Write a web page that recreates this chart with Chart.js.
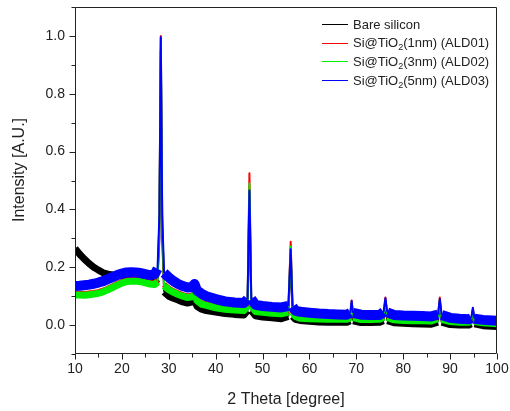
<!DOCTYPE html>
<html lang="en">
<head>
  <meta charset="UTF-8">
  <title>XRD Si@TiO2</title>
  <script src="https://cdn.jsdelivr.net/npm/chart.js"></script>
  <style>
    body {
      background-color: #fff;
      margin: 0;
      padding: 0;
    }
    canvas {
      display: block;
    }
  </style>
</head>
<body>
  <canvas id="xrdChart" width="510" height="411"></canvas>

  <script>
    // 2 theta positions (shared by all four patterns)
    const twoTheta = [10,11,12,13,14,15,16,17,18,19,20,21,22,23,24,25,26,27,
      27.6,28.0,28.3,28.6,29.0,30,31,32,33,34,35,35.5,36,37,38,40,42,44,46,
      46.8,47.2,47.6,48.5,50,52,54,55.5,56.0,56.4,57,58,60,62,64,66,68,
      68.7,69.0,69.3,71,73,75,75.8,76.2,76.6,78,80,82,84,86,87.4,87.8,88.2,
      90,92,94,94.5,94.85,95.2,97,100];

    const bareSilicon = [0.265,0.245,0.228,0.213,0.2,0.19,0.181,0.176,0.173,0.172,0.17,0.168,0.165,0.162,0.158,0.155,0.15,0.15,
      0.16,0.3,0.95,0.3,0.115,0.1,0.093,0.087,0.08,0.076,0.08,0.09,0.065,0.055,0.05,0.045,0.04,0.037,0.035,
      0.05,0.44,0.05,0.032,0.028,0.025,0.022,0.03,0.24,0.03,0.02,0.016,0.013,0.011,0.01,0.01,0.01,
      0.015,0.06,0.015,0.009,0.009,0.01,0.015,0.07,0.015,0.008,0.006,0.005,0.004,0.003,0.01,0.075,0.01,
      0.002,0,0,0.004,0.04,0.004,-0.002,-0.005];

    const ald01 = [0.108,0.108,0.107,0.109,0.111,0.114,0.119,0.126,0.134,0.142,0.149,0.154,0.156,0.156,0.154,0.15,0.146,0.144,
      0.155,0.36,1.0,0.36,0.14,0.126,0.117,0.11,0.104,0.099,0.102,0.113,0.089,0.076,0.072,0.064,0.059,0.056,0.054,
      0.072,0.525,0.072,0.051,0.048,0.045,0.043,0.05,0.288,0.05,0.034,0.028,0.026,0.025,0.024,0.024,0.024,
      0.03,0.085,0.03,0.023,0.023,0.024,0.032,0.095,0.03,0.022,0.02,0.019,0.019,0.018,0.026,0.095,0.024,
      0.016,0.014,0.014,0.017,0.055,0.016,0.012,0.009];

    const ald02 = [0.104,0.104,0.103,0.105,0.107,0.11,0.115,0.122,0.13,0.138,0.145,0.15,0.152,0.152,0.15,0.146,0.142,0.14,
      0.15,0.35,0.99,0.35,0.135,0.122,0.113,0.106,0.1,0.095,0.098,0.11,0.085,0.072,0.068,0.06,0.055,0.052,0.05,
      0.068,0.49,0.068,0.047,0.044,0.041,0.039,0.045,0.272,0.045,0.03,0.024,0.022,0.021,0.02,0.02,0.02,
      0.026,0.076,0.026,0.019,0.019,0.02,0.028,0.086,0.026,0.018,0.016,0.015,0.015,0.014,0.022,0.086,0.02,
      0.012,0.01,0.01,0.013,0.05,0.012,0.008,0.005];

    const ald03 = [0.135,0.136,0.138,0.14,0.143,0.147,0.152,0.159,0.166,0.173,0.178,0.182,0.183,0.182,0.18,0.176,0.173,0.176,
      0.195,0.38,0.995,0.38,0.18,0.165,0.152,0.142,0.135,0.13,0.132,0.142,0.12,0.108,0.1,0.09,0.082,0.078,0.076,
      0.09,0.465,0.09,0.07,0.066,0.063,0.061,0.066,0.262,0.064,0.05,0.046,0.043,0.04,0.038,0.037,0.036,
      0.042,0.083,0.042,0.036,0.035,0.035,0.045,0.093,0.044,0.035,0.033,0.032,0.031,0.03,0.036,0.09,0.035,
      0.025,0.022,0.02,0.024,0.06,0.022,0.018,0.015];

    const seriesLabels = ['Bare silicon', 'Si@TiO₂(1nm) (ALD01)', 'Si@TiO₂(3nm) (ALD02)', 'Si@TiO₂(5nm) (ALD03)'];
    const seriesColors = ['#000000', '#ff0000', '#00ee00', '#0000ff'];

    const textColor = '#222';
    const fontFamily = '"Liberation Sans", Arial, sans-serif';
    Chart.defaults.font.family = fontFamily;
    Chart.defaults.color = textColor;

    // noisy band is drawn as a thick stroke, steep peak flanks as a thin one
    const band = (w) => (c) =>
      Math.abs(c.p1.y - c.p0.y) > 4 * Math.abs(c.p1.x - c.p0.x) ? 2 : w;

    const makeSet = (i, values, width) => ({
      label: seriesLabels[i],
      data: twoTheta.map((x, k) => ({ x, y: values[k] })),
      borderColor: seriesColors[i],
      borderWidth: width,
      borderCapStyle: 'butt',
      borderJoinStyle: 'round',
      pointRadius: 0,
      tension: 0,
      clip: 0,
      order: 4 - i,
      segment: { borderWidth: band(width) }
    });

    // pin the plot box, drop the extra label padding chart.js adds
    const pinBox = (size) => (s) => {
      if (s.isHorizontal()) s.height = size; else s.width = size;
      s.paddingLeft = s.paddingRight = s.paddingTop = s.paddingBottom = 0;
    };

    // frame, tick marks, legend and y title
    const decor = {
      id: 'decor',
      afterDraw(chart) {
        const { ctx, chartArea: a, scales } = chart;
        ctx.save();
        ctx.setLineDash([]);
        ctx.strokeStyle = textColor;
        ctx.lineWidth = 1;
        const L = Math.round(a.left) + 0.5, R = Math.round(a.right) - 0.5;
        const T = Math.round(a.top) + 0.5, B = Math.round(a.bottom) - 0.5;
        ctx.beginPath();
        ctx.rect(L, T, R - L, B - T);

        scales.x.ticks.forEach(t => {
          const px = Math.round(scales.x.getPixelForValue(t.value)) + 0.5;
          ctx.moveTo(px, B);
          ctx.lineTo(px, B + (t.label ? 6 : 4));
        });
        scales.y.ticks.forEach(t => {
          const py = Math.round(scales.y.getPixelForValue(t.value)) + 0.5;
          ctx.moveTo(L, py);
          ctx.lineTo(L - (t.label ? 6 : 4), py);
        });
        ctx.stroke();

        // legend
        ctx.textBaseline = 'middle';
        ctx.textAlign = 'left';
        chart.data.datasets.forEach((ds, i) => {
          const y = 25 + i * 18.7;
          ctx.strokeStyle = ds.borderColor;
          ctx.beginPath();
          ctx.moveTo(322, Math.round(y) - 0.5);
          ctx.lineTo(348, Math.round(y) - 0.5);
          ctx.stroke();
          ctx.fillStyle = textColor;
          const parts = ds.label.split('₂');
          let x = 353;
          ctx.font = '13px ' + fontFamily;
          ctx.fillText(parts[0], x, y);
          x += ctx.measureText(parts[0]).width;
          if (parts.length > 1) {
            ctx.font = '9px ' + fontFamily;
            ctx.fillText('2', x, y + 4);
            x += ctx.measureText('2').width;
            ctx.font = '13px ' + fontFamily;
            ctx.fillText(parts[1], x, y);
          }
        });

        // y axis title
        ctx.translate(20, 170);
        ctx.rotate(-Math.PI / 2);
        ctx.textAlign = 'center';
        ctx.fillStyle = textColor;
        ctx.font = '16px ' + fontFamily;
        ctx.fillText('Intensity [A.U.]', 0, 0);
        ctx.restore();
      }
    };

    const xrdChart = new Chart(document.getElementById('xrdChart').getContext('2d'), {
      type: 'line',
      data: {
        datasets: [
          makeSet(0, bareSilicon, 7),
          makeSet(1, ald01, 6),
          makeSet(2, ald02, 7),
          makeSet(3, ald03, 10)
        ]
      },
      options: {
        responsive: false,
        animation: false,
        layout: { padding: { top: 7, right: 13, left: 0, bottom: 0 } },
        plugins: {
          legend: { display: false },
          tooltip: { enabled: false }
        },
        scales: {
          x: {
            type: 'linear',
            min: 10,
            max: 100,
            afterFit: pinBox(57),
            grid: { display: false, drawTicks: false },
            border: { display: false },
            ticks: {
              stepSize: 5,
              autoSkip: false,
              maxRotation: 0,
              padding: 7,
              color: textColor,
              font: { size: 14 },
              callback: v => (v % 10 === 0 ? String(v) : '')
            },
            title: {
              display: true,
              text: '2 Theta [degree]',
              color: textColor,
              font: { size: 16 },
              padding: { top: 0, bottom: 2 }
            }
          },
          y: {
            type: 'linear',
            min: -0.1,
            max: 1.1,
            afterFit: pinBox(75),
            grid: { display: false, drawTicks: false },
            border: { display: false },
            ticks: {
              stepSize: 0.1,
              autoSkip: false,
              padding: 10,
              color: textColor,
              font: { size: 14 },
              callback: v => {
                const n = Math.round(v * 10);
                return (n % 2 === 0 && n >= 0 && n <= 10) ? (n / 10).toFixed(1) : '';
              }
            }
          }
        }
      },
      plugins: [decor]
    });
  </script>
</body>
</html>
